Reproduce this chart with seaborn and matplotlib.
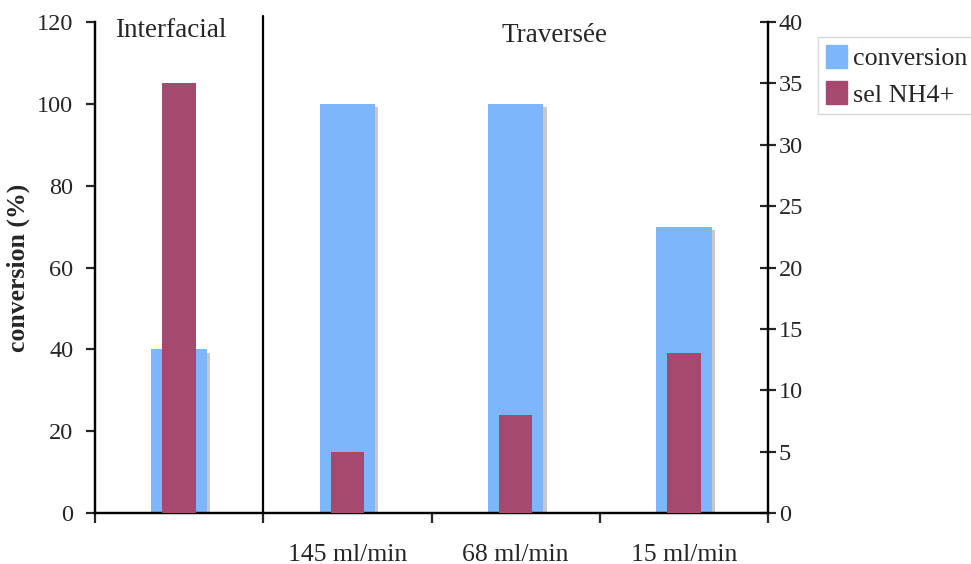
import matplotlib
matplotlib.use("Agg")
import matplotlib.pyplot as plt
import matplotlib.patheffects as pe
import seaborn as sns
import pandas as pd

categories = ["", "145 ml/min", "68 ml/min", "15 ml/min"]
conversion = [40, 100, 100, 70]
sel_nh4 = [35, 5, 8, 13]

sns.set_style("white")
plt.rcParams['font.family'] = ['Liberation Serif', 'DejaVu Serif']

df = pd.DataFrame({"cat": categories, "conversion": conversion, "sel": sel_nh4})

fig = plt.figure(figsize=(9.71, 5.64), dpi=100)
ax = fig.add_axes([95/971, 1-513/564, (768-95)/971, (513-22)/564])
ax2 = ax.twinx()

blue = "#7DB6FB"
maroon = "#A6496F"
shadow = [pe.SimplePatchShadow(offset=(2.3, -2.3), shadow_rgbFace="#C8C8C8", alpha=1.0), pe.Normal()]

sns.barplot(data=df, x="cat", y="conversion", ax=ax, color=blue, width=0.33,
            saturation=1, zorder=2)
for p in ax.patches:
    p.set_path_effects(shadow)
    p.set_edgecolor("none")

sns.barplot(data=df, x="cat", y="sel", ax=ax2, color=maroon, width=0.2,
            saturation=1, zorder=3)
for p in ax2.patches:
    p.set_edgecolor("none")

ax.set_ylim(0, 120)
ax2.set_ylim(0, 40)
ax.set_xlim(-0.5, 3.5)
ax.set_yticks(range(0, 121, 20))
ax2.set_yticks(range(0, 41, 5))

fs = 17.5
ax.set_ylabel("conversion (%)", fontsize=18.5, fontweight="bold", labelpad=5)
ax2.set_ylabel("")
ax.set_xlabel("")

for s in ["top"]:
    ax.spines[s].set_visible(False)
    ax2.spines[s].set_visible(False)
for s in ["left", "bottom", "right"]:
    ax2.spines[s].set_linewidth(1.6)
    ax2.spines[s].set_color("black")
    ax.spines[s].set_linewidth(1.6)
    ax.spines[s].set_color("black")

ax.tick_params(axis="y", direction="out", length=6.5, width=1.6, labelsize=fs, pad=9, left=True)
ax2.tick_params(axis="y", direction="inout", length=11.5, width=1.6, labelsize=fs, pad=2, right=True)

ax.set_xticks(range(len(categories)))
ax.set_xticklabels(categories, fontsize=18.5)
ax.set_xticks([-0.5, 0.5, 1.5, 2.5, 3.5], minor=True)
ax.tick_params(axis="x", which="major", length=0, pad=22)
ax.tick_params(axis="x", which="minor", direction="out", length=7, width=1.6, bottom=True)

# divider line between groups
ax.plot([0.5, 0.5], [0, 121.5], color="black", lw=1.6, clip_on=False, zorder=5)

ax.text(-0.05, 118, "Interfacial", ha="center", va="center", fontsize=19.5)
ax2.text(2.23, 38.9, "Traversée", ha="center", va="center", fontsize=19.5)

handles = [plt.Rectangle((0, 0), 1, 1, color=blue), plt.Rectangle((0, 0), 1, 1, color=maroon)]
leg = fig.legend(handles, ["conversion", "sel NH4+"], loc="upper left",
                 bbox_to_anchor=(818/971, 1-37/564), fontsize=18.8, frameon=True,
                 fancybox=False, edgecolor="#CCCCCC", borderpad=0.3,
                 handlelength=0.8, handleheight=1.0, handletextpad=0.23,
                 labelspacing=0.4, borderaxespad=0)
leg.get_frame().set_linewidth(1.0)

fig.savefig("out.png", dpi=100)
